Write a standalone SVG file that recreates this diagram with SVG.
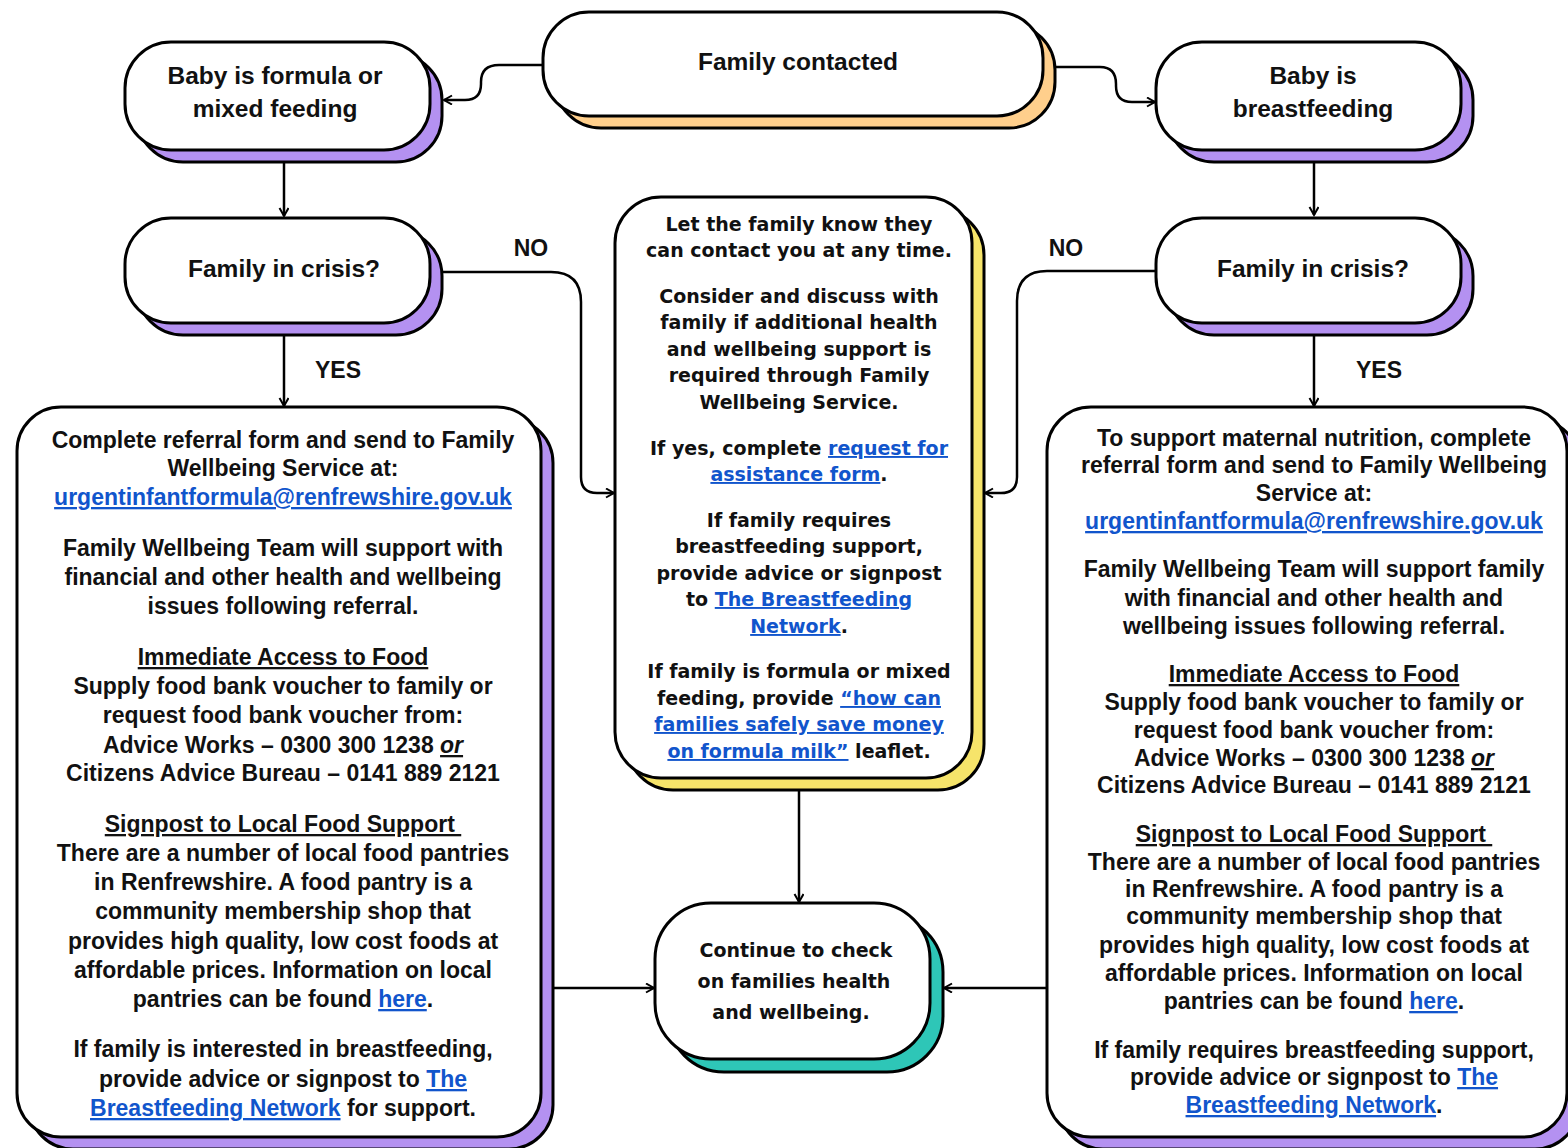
<svg xmlns="http://www.w3.org/2000/svg" width="1568" height="1148" viewBox="0 0 1568 1148">
<style>
.box{fill:#fff;stroke:#000;stroke-width:3}
.sp{fill:#b491f1;stroke:#000;stroke-width:3}
.so{fill:#ffcf8c;stroke:#000;stroke-width:3}
.sy{fill:#f6e46a;stroke:#000;stroke-width:3}
.st{fill:#2ec6b7;stroke:#000;stroke-width:3}
.t{font-family:"Liberation Sans",Arial,sans-serif;font-weight:bold;font-size:23px;fill:#111;text-anchor:middle}
.h{font-size:24.5px}
.v{font-family:"DejaVu Sans",Verdana,sans-serif;font-weight:bold;font-size:19px;fill:#111;text-anchor:middle}
.lk{fill:#1155cc;text-decoration:underline}
.u{text-decoration:underline}
.conn{fill:none;stroke:#000;stroke-width:2.5}
</style>
<defs>
<marker id="arr" markerUnits="userSpaceOnUse" markerWidth="12" markerHeight="12" refX="9" refY="5" orient="auto">
<path d="M1,0.5 L9,5 L1,9.5" fill="none" stroke="#000" stroke-width="2"/>
</marker>
</defs>
<rect width="1568" height="1148" fill="#fff"/>

<g id="connectors">
<path class="conn" d="M543,65 H499 Q481,65 481,82 V84 Q481,100 465,100 H444" marker-end="url(#arr)"/>
<path class="conn" d="M1055,67 H1100 Q1116,67 1116,84 V86 Q1116,102 1132,102 H1155" marker-end="url(#arr)"/>
<path class="conn" d="M284,162 V216" marker-end="url(#arr)"/>
<path class="conn" d="M1314,162 V215" marker-end="url(#arr)"/>
<path class="conn" d="M284,336 V406" marker-end="url(#arr)"/>
<path class="conn" d="M1314,336 V406" marker-end="url(#arr)"/>
<path class="conn" d="M442,272 H551 Q581,272 581,302 V477 Q581,493 597,493 H614" marker-end="url(#arr)"/>
<path class="conn" d="M1156,271 H1047 Q1017,271 1017,301 V477 Q1017,493 1001,493 H985" marker-end="url(#arr)"/>
<path class="conn" d="M799,791 V902" marker-end="url(#arr)"/>
<path class="conn" d="M554,988 H654" marker-end="url(#arr)"/>
<path class="conn" d="M1047,988 H944" marker-end="url(#arr)"/>
<text class="t" x="531" y="256">NO</text>
<text class="t" x="1066" y="256">NO</text>
<text class="t" x="338" y="378">YES</text>
<text class="t" x="1379" y="378">YES</text>
</g>

<g id="family-contacted">
<rect class="so" x="555" y="24" width="500" height="104" rx="46"/>
<rect class="box" x="543" y="12" width="500" height="104" rx="46"/>
<text class="t h" x="798" y="70">Family contacted</text>
</g>

<g id="formula-feeding">
<rect class="sp" x="137" y="54" width="305" height="108" rx="46"/>
<rect class="box" x="125" y="42" width="305" height="108" rx="46"/>
<text class="t h" x="275" y="84">Baby is formula or</text>
<text class="t h" x="275" y="117">mixed feeding</text>
</g>

<g id="breastfeeding">
<rect class="sp" x="1168" y="54" width="305" height="108" rx="46"/>
<rect class="box" x="1156" y="42" width="305" height="108" rx="46"/>
<text class="t h" x="1313" y="84">Baby is</text>
<text class="t h" x="1313" y="117">breastfeeding</text>
</g>

<g id="crisis-left">
<rect class="sp" x="137" y="230" width="305" height="105" rx="46"/>
<rect class="box" x="125" y="218" width="305" height="105" rx="46"/>
<text class="t h" x="284" y="277">Family in crisis?</text>
</g>

<g id="crisis-right">
<rect class="sp" x="1168" y="230" width="305" height="105" rx="46"/>
<rect class="box" x="1156" y="218" width="305" height="105" rx="46"/>
<text class="t h" x="1313" y="277">Family in crisis?</text>
</g>

<g id="left-referral">
<rect class="sp" x="29" y="419" width="524" height="730" rx="44"/>
<rect class="box" x="17" y="407" width="524" height="730" rx="44"/>
<text class="t" x="283" y="448">Complete referral form and send to Family</text>
<text class="t" x="283" y="476">Wellbeing Service at:</text>
<text class="t" x="283" y="505"><tspan class="lk">urgentinfantformula@renfrewshire.gov.uk</tspan></text>
<text class="t" x="283" y="556">Family Wellbeing Team will support with</text>
<text class="t" x="283" y="585">financial and other health and wellbeing</text>
<text class="t" x="283" y="614">issues following referral.</text>
<text class="t" x="283" y="665"><tspan class="u">Immediate Access to Food</tspan></text>
<text class="t" x="283" y="694">Supply food bank voucher to family or</text>
<text class="t" x="283" y="723">request food bank voucher from:</text>
<text class="t" x="283" y="753">Advice Works – 0300 300 1238 <tspan class="u" font-style="italic">or</tspan></text>
<text class="t" x="283" y="781">Citizens Advice Bureau – 0141 889 2121</text>
<text class="t" x="283" y="832"><tspan class="u">Signpost to Local Food Support&#160;</tspan></text>
<text class="t" x="283" y="861">There are a number of local food pantries</text>
<text class="t" x="283" y="890">in Renfrewshire. A food pantry is a</text>
<text class="t" x="283" y="919">community membership shop that</text>
<text class="t" x="283" y="949">provides high quality, low cost foods at</text>
<text class="t" x="283" y="978">affordable prices. Information on local</text>
<text class="t" x="283" y="1007">pantries can be found <tspan class="lk">here</tspan>.</text>
<text class="t" x="283" y="1057">If family is interested in breastfeeding,</text>
<text class="t" x="283" y="1087">provide advice or signpost to <tspan class="lk">The</tspan></text>
<text class="t" x="283" y="1116"><tspan class="lk">Breastfeeding Network</tspan> for support.</text>
</g>

<g id="no-crisis-support">
<rect class="sy" x="627" y="209" width="357" height="581" rx="46"/>
<rect class="box" x="615" y="197" width="357" height="581" rx="46"/>
<text class="v" x="799" y="231">Let the family know they</text>
<text class="v" x="799" y="257">can contact you at any time.</text>
<text class="v" x="799" y="303">Consider and discuss with</text>
<text class="v" x="799" y="329">family if additional health</text>
<text class="v" x="799" y="356">and wellbeing support is</text>
<text class="v" x="799" y="382">required through Family</text>
<text class="v" x="799" y="409">Wellbeing Service.</text>
<text class="v" x="799" y="455">If yes, complete <tspan class="lk">request for</tspan></text>
<text class="v" x="799" y="481"><tspan class="lk">assistance form</tspan>.</text>
<text class="v" x="799" y="527">If family requires</text>
<text class="v" x="799" y="553">breastfeeding support,</text>
<text class="v" x="799" y="580">provide advice or signpost</text>
<text class="v" x="799" y="606">to <tspan class="lk">The Breastfeeding</tspan></text>
<text class="v" x="799" y="633"><tspan class="lk">Network</tspan>.</text>
<text class="v" x="799" y="678">If family is formula or mixed</text>
<text class="v" x="799" y="705">feeding, provide <tspan class="lk">“how can</tspan></text>
<text class="v" x="799" y="731"><tspan class="lk">families safely save money</tspan></text>
<text class="v" x="799" y="758"><tspan class="lk">on formula milk”</tspan> leaflet.</text>
</g>

<g id="continue-check">
<rect class="st" x="668" y="916" width="275" height="156" rx="56"/>
<rect class="box" x="655" y="903" width="275" height="156" rx="56"/>
<text class="v" x="796" y="957" font-size="19.5">Continue to check</text>
<text class="v" x="794" y="988" font-size="19.5">on families health</text>
<text class="v" x="791" y="1019" font-size="19.5">and wellbeing.</text>
</g>

<g id="right-referral">
<rect class="sp" x="1059" y="419" width="520" height="730" rx="44"/>
<rect class="box" x="1047" y="407" width="520" height="730" rx="44"/>
<text class="t" x="1314" y="446">To support maternal nutrition, complete</text>
<text class="t" x="1314" y="473">referral form and send to Family Wellbeing</text>
<text class="t" x="1314" y="501">Service at:</text>
<text class="t" x="1314" y="529"><tspan class="lk">urgentinfantformula@renfrewshire.gov.uk</tspan></text>
<text class="t" x="1314" y="577">Family Wellbeing Team will support family</text>
<text class="t" x="1314" y="606">with financial and other health and</text>
<text class="t" x="1314" y="634">wellbeing issues following referral.</text>
<text class="t" x="1314" y="682"><tspan class="u">Immediate Access to Food</tspan></text>
<text class="t" x="1314" y="710">Supply food bank voucher to family or</text>
<text class="t" x="1314" y="738">request food bank voucher from:</text>
<text class="t" x="1314" y="766">Advice Works – 0300 300 1238 <tspan class="u" font-style="italic">or</tspan></text>
<text class="t" x="1314" y="793">Citizens Advice Bureau – 0141 889 2121</text>
<text class="t" x="1314" y="842"><tspan class="u">Signpost to Local Food Support&#160;</tspan></text>
<text class="t" x="1314" y="870">There are a number of local food pantries</text>
<text class="t" x="1314" y="897">in Renfrewshire. A food pantry is a</text>
<text class="t" x="1314" y="924">community membership shop that</text>
<text class="t" x="1314" y="953">provides high quality, low cost foods at</text>
<text class="t" x="1314" y="981">affordable prices. Information on local</text>
<text class="t" x="1314" y="1009">pantries can be found <tspan class="lk">here</tspan>.</text>
<text class="t" x="1314" y="1058">If family requires breastfeeding support,</text>
<text class="t" x="1314" y="1085">provide advice or signpost to <tspan class="lk">The</tspan></text>
<text class="t" x="1314" y="1113"><tspan class="lk">Breastfeeding Network</tspan>.</text>
</g>
</svg>
